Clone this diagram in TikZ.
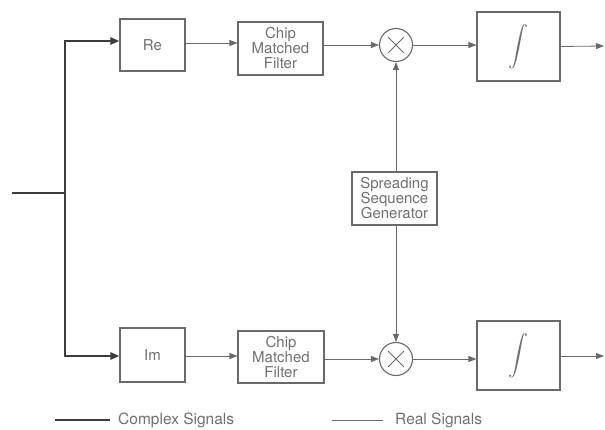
\documentclass[tikz,border=0pt]{standalone}
\usepackage{fontspec}
\usepackage{graphicx}
\setmainfont{TeX Gyre Heros}
\usetikzlibrary{arrows.meta}
\definecolor{ln}{HTML}{6A6A6A}
\definecolor{thk}{HTML}{3C3C3C}
\definecolor{txt}{HTML}{707070}
\begin{document}
\begin{tikzpicture}[x=1pt,y=-1pt,
  blk/.style={draw=ln,line width=1.1pt,minimum width=#1,text=txt,inner sep=0pt,align=center,font=\fontsize{15}{15}\selectfont},
  mult/.style={draw=ln,line width=1.1pt,circle,minimum size=33pt,inner sep=0pt},
  sig/.style={draw=ln,line width=0.8pt,-{Triangle[length=8pt,width=6pt]}},
  cplx/.style={draw=thk,line width=2.4pt,-{Triangle[length=9pt,width=7pt]}},
  lbl/.style={text=txt,anchor=west,inner sep=0pt,font=\fontsize{15.5}{15.5}\selectfont}]
\useasboundingbox (0,0) rectangle (605,430);
% top row
\node[blk=65pt,minimum height=52pt] (re) at (152.5,45) {Re};
\node[blk=85pt,minimum height=53pt] (cmf1) at (280.5,48.5) {Chip\\Matched\\Filter};
\node[mult] (m1) at (396,45) {};
\node[blk=83pt,minimum height=69pt] (int1) at (518.5,46.5) {\scalebox{2.0}{$\displaystyle\int$}};
\coordinate (o1) at (604,46);
% middle
\node[blk=85pt,minimum height=53pt] (ssg) at (394.5,198.5) {Spreading\\Sequence\\Generator};
% bottom row
\node[blk=65pt,minimum height=54pt] (im) at (152.5,355) {Im};
\node[blk=86pt,minimum height=52pt] (cmf2) at (281,357) {Chip\\Matched\\Filter};
\node[mult] (m2) at (396,359) {};
\node[blk=83pt,minimum height=69pt] (int2) at (518.5,355.5) {\scalebox{2.0}{$\displaystyle\int$}};
\coordinate (o2) at (604,356);
% crosses
\foreach \m in {m1,m2}{
  \draw[ln,line width=1pt] ([shift={(-8,-8)}]\m.center) -- ([shift={(8,8)}]\m.center);
  \draw[ln,line width=1pt] ([shift={(-8,8)}]\m.center) -- ([shift={(8,-8)}]\m.center);
}
% complex input
\coordinate (in) at (12,193);
\coordinate (sp) at (65,193);
\coordinate (st) at (65,41);
\coordinate (sb) at (65,356);
\draw[draw=thk,line width=2.4pt] (in) -- (sp);
\draw[cplx] (sp) -- (st) -- (st -| re.west);
\draw[cplx] (sp) -- (sb) -- (sb -| im.west);
% real signals
\draw[sig] (re.east |- 0,43) -- (cmf1.west |- 0,43);
\draw[sig] (cmf1.east |- 0,45) -- (m1.west);
\draw[sig] (m1.east) -- (int1.west |- m1.east);
\draw[sig] (int1.east) -- (o1);
\draw[sig] (im.east |- 0,356) -- (cmf2.west |- 0,356);
\draw[sig] (cmf2.east |- 0,359) -- (m2.west);
\draw[sig] (m2.east) -- (int2.west |- m2.east);
\draw[sig] (int2.east |- o2) -- (o2);
\draw[sig] (ssg.north -| m1.south) -- (m1.south);
\draw[sig] (ssg.south -| m2.north) -- (m2.north);
% legend
\coordinate (l1a) at (55,420); \coordinate (l1b) at (110,420);
\coordinate (l2a) at (332,420); \coordinate (l2b) at (383,420);
\draw[thk,line width=2.4pt] (l1a) -- (l1b);
\node[lbl] (lc) at (118,420) {Complex Signals};
\draw[ln,line width=0.9pt] (l2a) -- (l2b);
\node[lbl] (lr) at (395,420) {Real Signals};
\end{tikzpicture}
\end{document}
